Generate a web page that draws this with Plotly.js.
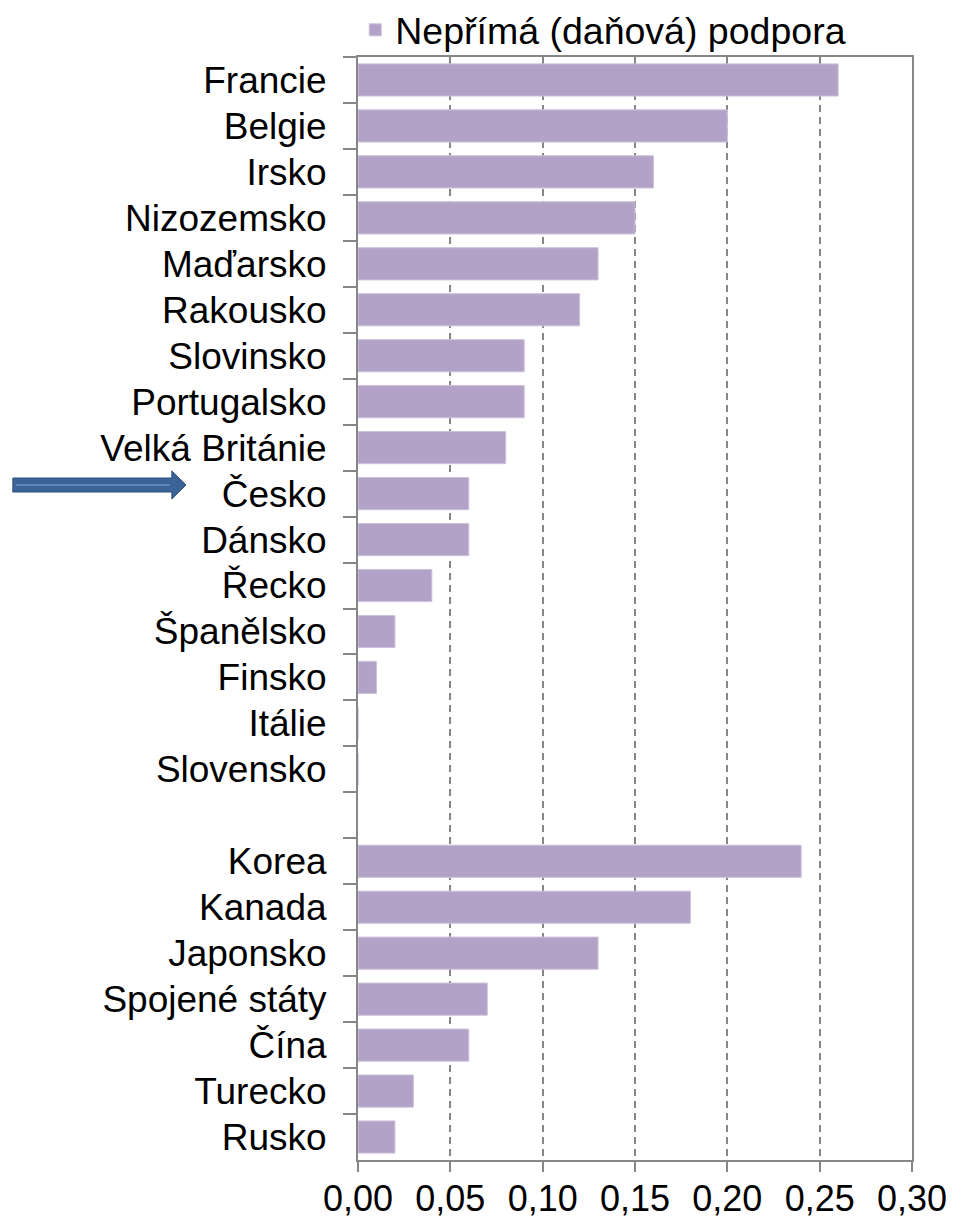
<!DOCTYPE html>
<html>
<head>
<meta charset="utf-8">
<script src="https://cdn.plot.ly/plotly-3.0.1.min.js"></script>
<style>html,body{margin:0;padding:0;background:#fff;}</style>
</head>
<body>
<div id="chart" style="width:953px;height:1221px;"></div>
<script>
const countries = ["Francie","Belgie","Irsko","Nizozemsko","Maďarsko","Rakousko","Slovinsko","Portugalsko","Velká Británie","Česko","Dánsko","Řecko","Španělsko","Finsko","Itálie","Slovensko"," ","Korea","Kanada","Japonsko","Spojené státy","Čína","Turecko","Rusko"];
const indirectSupport = [0.26,0.20,0.16,0.15,0.13,0.12,0.09,0.09,0.08,0.06,0.06,0.04,0.02,0.01,0,0,null,0.24,0.18,0.13,0.07,0.06,0.03,0.02];
const seriesName = "Nepřímá (daňová) podpora";
const xTicks = [0,0.05,0.10,0.15,0.20,0.25,0.30];

const font = "Liberation Sans, Arial, sans-serif";
const axisGray = "#868686";

const trace = {
  type: "bar",
  orientation: "h",
  y: countries,
  x: indirectSupport,
  name: seriesName,
  showlegend: true,
  marker: {color: "#B3A2C7", line: {color: "#CDC1DC", width: 1}},
  width: 0.7
};

const layout = {
  width: 953, height: 1221,
  margin: {l: 358, r: 41, t: 57, b: 61, pad: 0, autoexpand: false},
  paper_bgcolor: "#fff", plot_bgcolor: "#fff",
  separators: ", ",
  font: {family: font, size: 36, color: "#000"},
  showlegend: true,
  legend: {
    orientation: "h", x: -0.005, xanchor: "left", y: 1.0245, yanchor: "middle",
    font: {family: font, size: 37.5, color: "#000"},
    itemwidth: 30, bgcolor: "rgba(0,0,0,0)", tracegroupgap: 0
  },
  xaxis: {
    range: [0, 0.3], tickvals: xTicks, tickformat: ".2f",
    showgrid: true, gridcolor: axisGray, gridwidth: 2, griddash: "7px,5px",
    zeroline: false, showline: true, linecolor: axisGray, linewidth: 2, mirror: true,
    ticks: "outside", ticklen: 10, tickwidth: 2, tickcolor: axisGray,
    ticklabelstandoff: -4,
    tickfont: {family: font, size: 36, color: "#000"}, fixedrange: true
  },
  yaxis: {
    type: "category", autorange: "reversed",
    showgrid: false, zeroline: false, showline: true, linecolor: axisGray, linewidth: 2, mirror: true,
    ticks: "outside", tickson: "boundaries", ticklen: 13, tickwidth: 2, tickcolor: axisGray,
    ticklabelstandoff: 22,
    tickfont: {family: font, size: 37, color: "#000"}, fixedrange: true
  },
  shapes: [
    {type: "path", xref: "paper", yref: "paper",
     path: "M-0.623,0.6183 L-0.336,0.6183 L-0.336,0.6247 L-0.3105,0.612 L-0.336,0.5993 L-0.336,0.6056 L-0.623,0.6056 Z",
     fillcolor: "#3B6397", line: {color: "#2E4F7C", width: 1}},
    {type: "line", xref: "paper", yref: "paper", x0: -0.618, x1: -0.34, y0: 0.612, y1: 0.612,
     line: {color: "#5E88C2", width: 2}}
  ]
};

Plotly.newPlot("chart", [trace], layout, {staticPlot: true, displayModeBar: false});
</script>
</body>
</html>
